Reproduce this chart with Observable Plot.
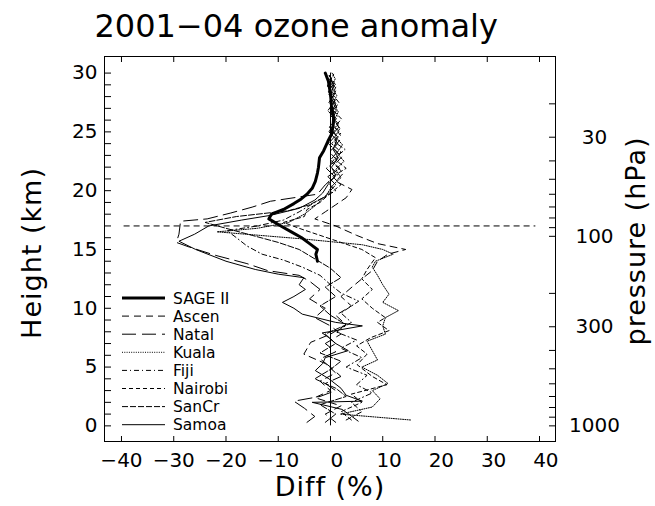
<!DOCTYPE html>
<html><head><meta charset="utf-8">
<script src="https://cdn.jsdelivr.net/npm/d3@7"></script>
<script src="https://cdn.jsdelivr.net/npm/@observablehq/plot@0.6"></script>
<style>
body{margin:0;background:#fff;}
#wrap{position:relative;width:655px;height:506px;font-family:"DejaVu Sans",sans-serif;}
#wrap svg{display:block;}
.axt text{letter-spacing:1px;}
#legend{position:absolute;left:0;top:0;pointer-events:none;}
</style></head><body><div id="wrap"></div>
<script>
// ---- data: [height km, diff %] ----
const sage = [[14.0,-2.5],[14.6,-2.8],[15.0,-2.5],[15.5,-4.0],[16.0,-5.5],[16.5,-7.5],[17.0,-9.5],[17.6,-11.8],[18.0,-11.3],[18.4,-9.0],[18.9,-7.0],[19.3,-5.6],[19.7,-4.5],[20.2,-3.5],[20.8,-2.9],[21.5,-2.5],[22.0,-2.3],[22.8,-2.1],[23.4,-1.3],[24.2,-0.5],[24.8,0.2],[25.5,0.5],[26.2,0.6],[27.2,0.2],[28.2,0.0],[29.3,-0.4],[30.0,-1.0]];
const ascen = [[0.3,1],[1.0,-1],[1.7,2],[2.4,-3],[3.0,0],[3.8,-2],[4.5,1],[5.3,-1],[6.1,-5.1],[7.1,-3.8],[7.8,0],[8.6,3],[9.4,1],[10.2,4],[11.0,2],[11.8,4.1],[12.5,6],[13.2,8.0],[14.0,9],[14.6,11],[15.0,14.4],[15.5,9],[16.2,5],[17.0,1],[17.6,-3],[18.2,-1],[18.8,1],[19.4,3],[20.1,4.1],[20.8,1.0],[21.5,2.5],[22.2,0.8],[22.9,2.2],[23.6,0.4],[24.3,1.8],[25.0,0.6],[25.7,1.5],[26.4,0.0],[27.1,1.2],[27.8,0.3],[28.5,1.0],[29.2,0.0],[29.9,0.6]];
const natal = [[0.3,-4.5],[0.8,-3],[1.5,-5],[2.1,-7.0],[2.5,-2],[3.0,1],[3.6,-1],[4.2,2],[5.0,0],[5.7,-2],[6.3,1],[7.0,-1],[7.8,2],[8.5,0],[9.2,-3],[10.0,-1],[10.8,-4],[11.6,-2],[12.3,-4],[12.8,-6],[13.2,-12],[13.8,-16],[14.5,-22],[15.2,-27],[15.6,-29.5],[16.3,-29],[17.4,-28.7],[17.6,-23.6],[18.1,-19.1],[18.6,-15],[19.1,-11.5],[19.7,-2.5],[20.5,-1],[21.2,0.8],[21.9,-0.8],[22.6,1.2],[23.3,-0.2],[24.0,1.4],[24.7,0.2],[25.4,1.6],[26.1,0.4],[26.8,1.1],[27.5,-0.3],[28.2,0.7],[28.9,-0.6],[29.6,0.2]];
const kuala = [[0.5,15.3],[1.0,1.9],[1.6,8],[2.3,9.5],[3.0,8],[3.6,11],[4.3,9],[5.0,6],[5.6,9],[6.4,8],[7.2,7],[7.8,10.5],[8.5,10],[9.2,10.5],[9.8,13],[10.5,10],[11.2,11.2],[12.0,10],[12.8,9],[13.5,8],[14.0,8.6],[14.6,12],[15.0,10],[15.4,6.1],[15.9,-5.4],[16.5,-21.7],[16.8,-14],[17.3,-8],[18.0,-5],[18.7,-3],[19.5,-1],[20.5,0.5],[21.1,2.0],[21.8,1.0],[22.5,2.6],[23.2,1.2],[23.9,2.3],[24.6,0.9],[25.3,1.8],[26.0,0.7],[26.7,1.5],[27.4,0.5],[28.1,1.2],[28.8,0.2],[29.5,0.9],[30.0,0.3]];
const fiji = [[0.5,3],[1.2,6],[2.0,4],[2.8,8],[3.5,5],[4.3,7],[5.0,3],[5.8,6],[6.6,2],[7.3,5],[8.0,1],[8.8,4],[9.6,2],[10.6,5.4],[11.3,2],[12.0,0],[12.8,-2],[13.5,-5.4],[14.1,-9],[14.6,-13.1],[15.3,-16],[16.0,-18],[16.6,-19.8],[17.0,-14],[17.5,-9],[18.2,-6],[19.0,-3],[20.0,1.0],[20.7,-0.5],[21.4,1.5],[22.1,-0.2],[22.8,0.9],[23.5,2.8],[24.2,0.6],[24.9,2.0],[25.6,0.3],[26.3,1.4],[27.0,0.0],[27.7,0.9],[28.4,-0.4],[29.1,0.5],[29.8,-0.3]];
const nairobi = [[0.5,4],[1.2,2],[2.0,6],[2.7,4],[3.5,10.8],[4.2,8],[5.2,5.1],[6.1,7.0],[6.8,5],[7.5,7.7],[8.1,11.2],[8.8,9],[9.2,10.5],[10.0,8],[10.8,6],[11.6,8],[12.5,6],[13.3,7],[14.3,8.6],[15.0,6],[15.6,2],[16.2,-2],[16.8,-6],[17.3,-9],[17.8,-5],[18.4,-4.5],[19.0,-2],[19.8,0],[20.5,2.0],[21.2,0.4],[21.9,3.0],[22.6,1.0],[23.3,2.0],[24.0,0.2],[24.7,1.9],[25.4,0.8],[26.1,2.1],[26.8,0.6],[27.5,1.6],[28.2,0.4],[28.9,1.1],[29.6,0.1]];
const sancr = [[0.3,-1],[1.0,1],[1.8,-2],[2.5,3],[3.2,1],[4.0,-3],[4.8,0],[5.5,2],[6.2,-2],[7.0,1],[7.8,-1],[8.6,3],[9.4,0],[10.2,-2],[11.0,1],[11.8,-1],[12.6,2],[13.4,0],[14.2,-3],[15.0,-6],[15.6,-10],[16.2,-15],[16.8,-20],[17.3,-24],[17.8,-18],[18.3,-8],[18.8,-4],[19.5,-1],[20.5,1],[21.2,-0.5],[21.9,1.8],[22.6,0.0],[23.3,1.3],[24.0,-0.4],[24.7,1.0],[25.4,-0.2],[26.1,0.9],[26.8,-0.5],[27.5,0.6],[28.2,-0.3],[28.9,0.8],[29.6,-0.4]];
const samoa = [[0.4,5.3],[1.0,3.5],[1.4,2.2],[2.0,-3.5],[2.1,6.1],[2.6,3.0],[3.2,2.0],[4.0,-0.3],[4.7,-2.9],[5.3,-1.5],[5.8,-1.0],[6.4,3.4],[7.0,1.0],[7.5,-0.3],[7.9,-1.6],[8.5,6.1],[8.8,1.0],[9.5,-5.4],[10.0,-7.0],[10.5,-9.2],[11.0,-7.0],[11.6,-4.8],[12.0,-6.0],[12.6,-5.1],[12.9,-10],[13.3,-14.4],[14.0,-20],[15.0,-25.8],[15.7,-29.0],[16.3,-26],[17.0,-23.3],[17.5,-17],[17.9,-11.5],[18.5,-6],[19.2,-3],[19.8,-1.5],[20.5,-0.5],[21.3,1.0],[22.0,0.2],[22.8,1.5],[23.5,0.5],[24.3,1.2],[25.0,-0.3],[25.8,0.8],[26.6,0.2],[27.4,1.0],[28.2,0.1],[29.0,0.6],[29.8,-0.2]];

const seriesNames = ["SAGE II","Ascen","Natal","Kuala","Fiji","Nairobi","SanCr","Samoa"];
const seriesData = [sage, ascen, natal, kuala, fiji, nairobi, sancr, samoa];

const xTicks = [-40,-30,-20,-10,0,10,20,30,40];
const yTicks = [0,5,10,15,20,25,30];
const yMinor = d3.range(0,31,1);
const pressureTicks = [20,30,40,50,60,70,80,90,100,200,300,400,500,600,700,800,900,1000];
const pressureLabels = [30,100,300,1000];
const tropopause = 17;
const title = "2001\u221204 ozone anomaly";

// ---- styles ----
const dashes = [null,"7,5","14,6","1,1.3","5,3,1,3","4,3","6,2",null];
const widths = [3,1,1,1,1,1,1,1];

// ---- layout ----
const W = 655, Ht = 506, mT = 56, mB = 65, mL = 104, mR = 100;
const fw = W - mL - mR, fh = Ht - mT - mB;

const Hs = 7; // scale height (km) linking pressure to height
const toKm = p => Hs*Math.log(1000/p);
const toP = z => String(Math.round(1000*Math.exp(-z/Hs)/10)*10);

const lineMarks = [];
for (let i = seriesData.length-1; i >= 0; i--) {
  lineMarks.push(Plot.line(seriesData[i], {x: d=>d[1], y: d=>d[0], stroke:"#000", strokeWidth: widths[i], strokeDasharray: dashes[i] ?? undefined}));
}

const chart = Plot.plot({
  width:W, height:Ht,
  marginTop:mT, marginBottom:mB, marginLeft:mL, marginRight:mR,
  x:{domain:[-43.25,43.06]},
  y:{domain:[-1.33,31.41]},
  style:{fontFamily:"DejaVu Sans, sans-serif", color:"#000", background:"#fff", overflow:"visible"},
  marks:[
    Plot.ruleY([tropopause], {x1:-39.5, x2:39.3, stroke:"#000", strokeDasharray:"6,4"}),
    Plot.ruleX([0], {y1:0, y2:30, stroke:"#000"}),
    ...lineMarks,
    Plot.frame({stroke:"#000"}),
    // inward ticks: draw outward ticks on the opposite side and shift them across the frame
    Plot.axisX(xTicks, {anchor:"top", tickSize:6, dy:fh, tickFormat:()=>"", label:null}),
    Plot.axisX(xTicks, {anchor:"bottom", tickSize:6, dy:-fh, tickFormat:()=>"", label:null}),
    Plot.axisY(yMinor, {anchor:"right", tickSize:6, dx:-fw, tickFormat:()=>"", label:null}),
    Plot.axisY(pressureTicks.map(toKm), {anchor:"left", tickSize:6, dx:fw, tickFormat:()=>"", label:null}),
    // labels
    Plot.axisX(xTicks, {anchor:"bottom", tickSize:0, tickPadding:11, fontSize:20, label:null,
      tickFormat: d => d < 0 ? "\u2212" + Math.abs(d) : "\u2007" + d}),
    Plot.axisY(yTicks, {anchor:"left", tickSize:0, tickPadding:7, fontSize:20, label:null}),
    Plot.axisY(pressureLabels.map(toKm), {anchor:"right", tickSize:0, tickPadding:39, textAnchor:"middle", fontSize:20, label:null, tickFormat: toP}),
    Plot.text([title], {text:d=>d, frameAnchor:"top-left", dx:-10, dy:-20, lineAnchor:"bottom", textAnchor:"start", fontSize:32}),
    Plot.text(["Diff (%)"], {text:d=>d, frameAnchor:"bottom", dy:35, lineAnchor:"top", fontSize:27, className:"axt"}),
    Plot.text(["Height (km)"], {text:d=>d, frameAnchor:"left", dx:-72, dy:4, rotate:-90, textAnchor:"middle", fontSize:27, className:"axt"}),
    Plot.text(["pressure (hPa)"], {text:d=>d, frameAnchor:"right", dx:81, dy:-8, rotate:-90, textAnchor:"middle", fontSize:27, className:"axt"})
  ]
});
const wrap = document.getElementById("wrap");
wrap.appendChild(chart);

// ---- legend overlay ----
const leg = d3.select(wrap).append("svg").attr("id","legend").attr("width",W).attr("height",Ht);
const rowY0 = 298, rowStep = 18.1;
seriesNames.forEach((name, i) => {
  const y = rowY0 + i*rowStep;
  leg.append("line").attr("x1",122).attr("x2",165).attr("y1",y).attr("y2",y)
    .attr("stroke","#000").attr("stroke-width",widths[i])
    .attr("stroke-dasharray", dashes[i] ?? null);
  leg.append("text").attr("x",173).attr("y",y).attr("dy","0.36em")
    .attr("font-family","DejaVu Sans, sans-serif").attr("font-size",15.5).text(name);
});
</script>
</body></html>
